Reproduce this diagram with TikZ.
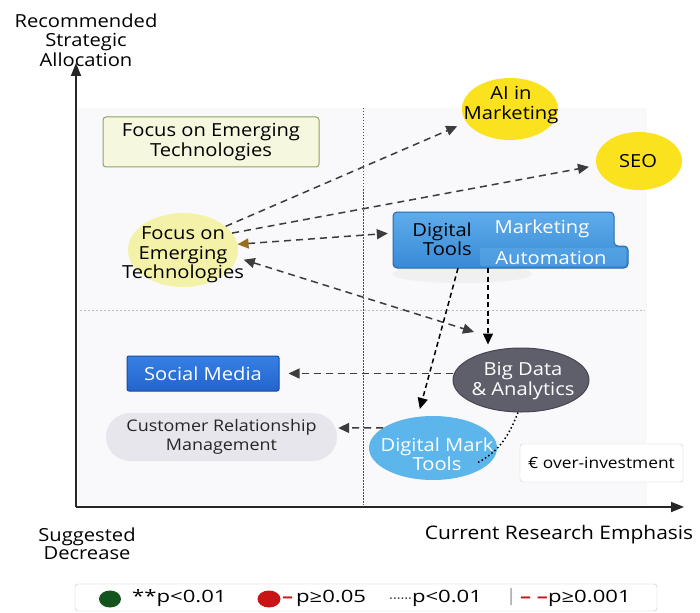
\documentclass[tikz,border=0pt]{standalone}
\usepackage{fontspec}
\setmainfont{Open Sans}[FakeStretch=1.12]
\newfontfamily\legfont{Open Sans}[FakeStretch=1.3]
\usetikzlibrary{arrows.meta,shapes.geometric}
\definecolor{panel}{RGB}{249,249,251}
\definecolor{aiyellow}{RGB}{250,226,30}
\definecolor{paleyellow}{RGB}{244,242,168}
\definecolor{focusfill}{RGB}{245,247,222}
\definecolor{focusborder}{RGB}{140,165,100}
\definecolor{dttop}{RGB}{95,172,235}
\definecolor{dtbot}{RGB}{55,138,214}
\definecolor{dtborder}{RGB}{40,105,175}
\definecolor{tabfill}{RGB}{100,175,235}
\definecolor{smtop}{RGB}{55,128,228}
\definecolor{smbot}{RGB}{35,100,205}
\definecolor{smborder}{RGB}{25,75,160}
\definecolor{crmfill}{RGB}{230,230,236}
\definecolor{bdfill}{RGB}{95,95,108}
\definecolor{bdborder}{RGB}{70,70,82}
\definecolor{dmtfill}{RGB}{92,182,236}
\definecolor{arrbrown}{RGB}{150,110,30}
\definecolor{dkgreen}{RGB}{20,85,30}
\definecolor{legred}{RGB}{200,20,20}
\definecolor{linegray}{RGB}{60,60,60}
\definecolor{hdivcol}{RGB}{195,185,190}
\begin{document}
\begin{tikzpicture}[x=1pt,y=-1pt,
  lbl/.style={align=center,inner sep=0pt,font=\fontsize{18}{19.5}\selectfont},
  leglbl/.style={inner sep=0pt,anchor=west,font=\legfont\fontsize{17}{19}\selectfont},
  ell/.style={ellipse,inner sep=0pt},
  dsh/.style={draw=linegray,line width=1.5pt,dash pattern=on 7pt off 5pt},
  fdsh/.style={draw=black,line width=1.5pt,dash pattern=on 5pt off 3.5pt},
  tip/.style={-{Triangle[length=11pt,width=10pt]}},
  axis/.style={draw=black!85,line width=1.8pt,-{Triangle[length=13pt,width=10pt]}}]
\useasboundingbox (0,0) rectangle (700,612);
\fill[white] (0,0) rectangle (700,612);
% panel and dividers
\fill[panel] (78,108) rectangle (647,505);
\draw[black!70,line width=0.7pt,dash pattern=on 1.5pt off 1.5pt] (363,108) -- (363,505);
\draw[hdivcol,line width=0.9pt,dash pattern=on 2pt off 2pt] (80,310) -- (645,310);
% axes
\coordinate (O) at (76,507);
\coordinate (ytop) at (76,63);
\coordinate (xend) at (684,507);
\draw[axis] (O) -- (ytop);
\draw[axis] (O) -- (xend);
% axis labels
\node[lbl] (ylab) at (86,40) {Recommended\\Strategic\\Allocation};
\node[lbl,font=\fontsize{18}{18}\selectfont] (xlo) at (87,544) {Suggested\\Decrease};
\node[lbl,font=\fontsize{18.7}{20}\selectfont] (xlab) at (559,535) {Current Research Emphasis};
% nodes
\node[rectangle,rounded corners=3pt,draw=focusborder,fill=focusfill,line width=1pt,minimum width=216pt,minimum height=50pt,lbl,inner sep=0pt] (fbox) at (211,142) {Focus on Emerging\\Technologies};
\node[ell,fill=aiyellow,minimum width=96pt,minimum height=62pt] (ai) at (510,109) {};
\node[lbl] (ait) at (511,105) {AI in\\Marketing};
\node[ell,fill=aiyellow,minimum width=86pt,minimum height=58pt] (seo) at (639,161) {};
\node[lbl] (seot) at (638,161) {SEO};
\node[ell,fill=paleyellow,minimum width=110pt,minimum height=74pt] (foc) at (183,250) {};
\node[lbl] (foct) at (183,255) {Focus on\\Emerging\\Technologies};
% digital tools composite box
\fill[gray!12] (462,274) ellipse [x radius=70pt, y radius=9pt];
\path[draw=dtborder,line width=1pt,top color=dttop,bottom color=dtbot,rounded corners=4pt]
  (393,212) -- (614,212) -- (614,246) -- (628,246) -- (628,268) -- (393,268) -- cycle;
\fill[tabfill,opacity=0.45,rounded corners=2pt] (480,248) rectangle (626,266);
\node[minimum width=235pt,minimum height=56pt,inner sep=0pt] (dt) at (510.5,240) {};
\node[lbl,align=right,anchor=east] (dtt) at (472,239) {Digital\\Tools};
\node[lbl,text=white] (dtm) at (542,229) {Marketing};
\node[lbl,text=white] (dta) at (551,258) {Automation};
% lower nodes
\node[rectangle,draw=smborder,line width=1pt,top color=smtop,bottom color=smbot,rounded corners=2pt,minimum width=152pt,minimum height=35pt,lbl,text=white] (sm) at (203,373.5) {Social Media};
\node[rectangle,rounded corners=24pt,fill=crmfill,minimum width=231pt,minimum height=48pt,lbl,font=\fontsize{16}{18.5}\selectfont,text=black!85] (crm) at (221.5,437) {Customer Relationship\\Management};
\node[ell,fill=bdfill,draw=bdborder,line width=1pt,minimum width=136pt,minimum height=64pt] (bd) at (521,380) {};
\node[lbl,text=white] (bdt) at (523,381) {Big Data\\\& Analytics};
\node[ell,fill=dmtfill,minimum width=128pt,minimum height=64pt] (dmt) at (433,448) {};
\node[lbl,text=white] (dmtt) at (437,454) {Digital Mark\\Tools};
\node[rectangle,draw=gray!40,fill=white,rounded corners=3pt,minimum width=163pt,minimum height=38pt,inner sep=0pt,font=\fontsize{15.5}{17}\selectfont] (eur) at (601.5,463) {€ over-investment};
% connectors
\coordinate (bdin) at (474,332);
\coordinate (dotend) at (477,463);
\draw[dsh,tip,shorten >=10pt] (foc.29) -- (ai.197);
\draw[dsh,tip,shorten >=7.5pt] (foc.19) -- (seo.186);
\draw[dsh,{Triangle[length=11pt,width=10pt,color=arrbrown]}-{Triangle[length=11pt,width=10pt]},shorten >=5pt] (foc.6) -- ([yshift=7pt]dt.west);
\draw[dsh,{Triangle[length=11pt,width=10pt]}-{Triangle[length=11pt,width=10pt]},shorten <=7pt] (foc.-8) -- (bdin);
\draw[fdsh,tip,shorten >=3pt] ([xshift=-22.5pt]dt.south) -- ([xshift=-33pt]bd.north);
\draw[fdsh,tip,shorten >=8pt] ([xshift=-52.5pt]dt.south) -- (dmt.116);
\draw[dsh,tip,shorten >=9pt] (bd.west |- sm.east) -- (sm.east);
\draw[dsh,tip,shorten >=1pt] (dmt.158) -- ([yshift=9pt]crm.east);
\draw[black,line width=1.5pt,dash pattern=on 1.5pt off 2.5pt] ([xshift=-3pt]bd.south) .. controls (508,438) and (498,452) .. (dotend);
% legend
\node[rectangle,draw=gray!45,fill=white,rounded corners=3pt,minimum width=582pt,minimum height=27pt,inner sep=0pt] (leg) at (366,597.5) {};
\node[ellipse,fill=dkgreen,minimum width=22pt,minimum height=17pt,inner sep=0pt] (g1) at (110,599) {};
\node[leglbl] (g1t) at (132,598) {**p<0.01};
\node[ellipse,fill=legred,minimum width=23pt,minimum height=17pt,inner sep=0pt] (r1) at (269,599) {};
\node[leglbl] (r1t) at (282,598) {\textcolor{legred}{\bfseries –}\,p≥0.05};
\node[leglbl] (d1t) at (389,598) {{\fontsize{11}{11}\selectfont ······}p<0.01};
\node[leglbl,text=gray!70] (sep) at (505,597) {|};
\node[leglbl] (d2t) at (520,598) {\textcolor{legred}{\bfseries – –}p≥0.001};
\end{tikzpicture}
\end{document}
